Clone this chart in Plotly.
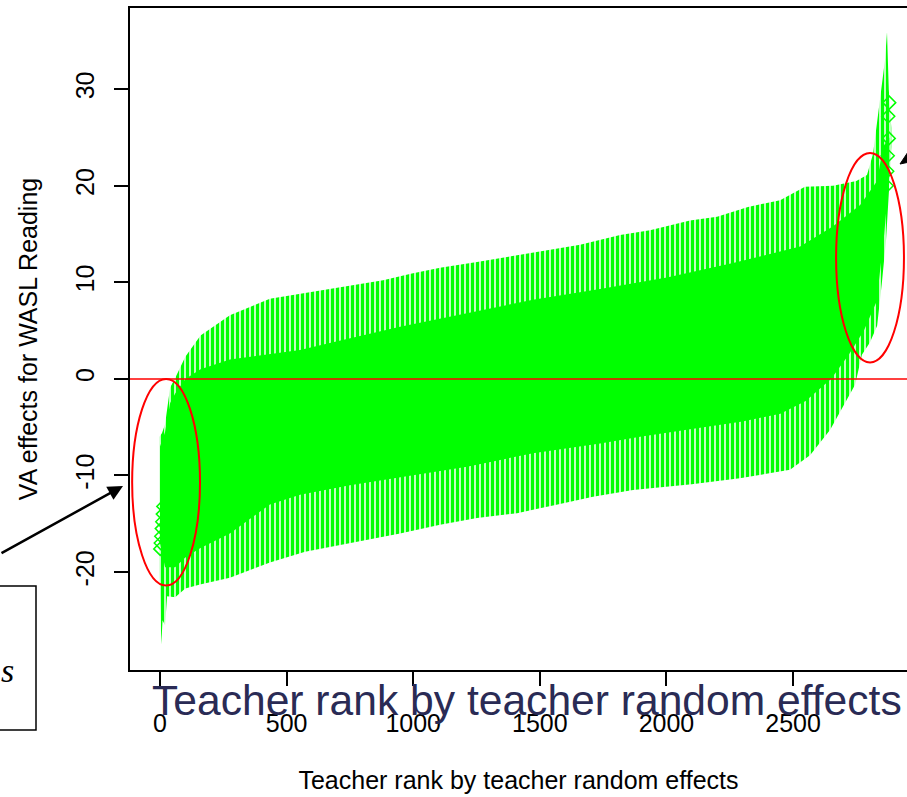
import plotly.graph_objects as go

# ---- data (teacher rank vs VA-effect interval envelopes) ----
upper_spike_rank = [-2, 8, 20, 40, 60, 100, 160, 276, 434, 573, 723, 881, 995, 1106, 1252, 1410,
                    1552, 1659, 1817, 1935, 2093, 2200, 2322, 2449, 2547, 2658, 2750, 2792, 2816,
                    2844, 2863, 2871, 2878, 2888]
upper_spike = [-6.0, -5.6, -4.7, -0.9, 0.1, 2.3, 4.5, 6.6, 8.3, 8.9, 9.5, 10.2, 10.9, 11.5, 12.1, 12.8,
               13.4, 13.9, 14.9, 15.4, 16.4, 16.8, 17.8, 18.5, 19.9, 20.0, 20.5, 21.1, 23.3,
               28.8, 33.0, 35.9, 30.0, 26.0]

lower_spike_rank = [-2, 5, 10, 20, 28, 60, 100, 158, 276, 434, 573, 750, 948, 1106, 1252, 1410,
                    1552, 1710, 1868, 2100, 2290, 2488, 2567, 2646, 2705, 2745, 2772, 2804, 2832,
                    2851, 2867, 2880, 2888]
lower_spike = [-20.0, -27.5, -25.0, -25.5, -22.5, -22.6, -21.7, -21.3, -20.6, -19.0, -17.9, -17.0,
               -16.0, -15.1, -14.4, -13.9, -13.1, -12.2, -11.5, -10.9, -10.3, -9.4, -7.9, -5.3,
               -2.5, -0.6, 2.5, 3.8, 5.5, 10.0, 14.3, 20.0, 24.0]

core_upper_rank = [0, 20, 40, 60, 100, 160, 276, 434, 553, 700, 948, 1212, 1473, 1738, 2002, 2263,
                   2528, 2658, 2765, 2832, 2855, 2880]
core_upper = [-7.0, -5.5, -2.5, -1.5, 0.0, 1.0, 2.0, 2.6, 3.0, 3.9, 5.4, 6.8, 8.2, 9.3, 10.5, 12.0,
              13.7, 15.8, 18.0, 20.5, 24.0, 25.0]

core_lower_rank = [0, 20, 60, 100, 160, 276, 434, 553, 750, 948, 1212, 1473, 1738, 1896, 2100, 2300,
                   2450, 2550, 2650, 2720, 2780, 2830, 2860, 2880]
core_lower = [-17.0, -19.5, -19.5, -18.5, -17.5, -16.0, -13.0, -12.0, -11.0, -10.2, -9.1, -7.7, -6.7,
              -6.0, -5.2, -4.4, -3.6, -2.3, 0.0, 2.5, 5.0, 8.0, 15.0, 21.0]

diamond_rank = [1, 3, 5, 7, 9, 11, 13, 2880, 2876, 2878, 2874, 2872, 2870]
diamond_value = [-17.6, -17.0, -16.3, -15.5, -14.8, -14.0, -13.2, 28.6, 27.2, 24.9, 23.1, 21.5, 20.0]

x_ticks = [0, 500, 1000, 1500, 2000, 2500]
y_ticks = [-20, -10, 0, 10, 20, 30]
y_tick_text = ["-20", "-10", "0", "10", "20", "30"]

x_title = "Teacher rank by teacher random effects"
y_title = "VA effects for WASL Reading"
overlay_text = "Teacher rank by teacher random effects"

GREEN = "#00ff00"
FONT = "Liberation Sans, Arial, sans-serif"

fig = go.Figure()

# outer (spiky) envelope
fig.add_trace(go.Scatter(
    x=upper_spike_rank + lower_spike_rank[::-1],
    y=upper_spike + lower_spike[::-1],
    mode="lines", fill="toself", line=dict(width=0, color=GREEN),
    fillcolor="rgba(0,255,0,0)",
    fillpattern=dict(shape="|", fgcolor=GREEN, fgopacity=1, bgcolor="rgba(255,255,255,0)",
                     size=5, solidity=0.7),
    hoverinfo="skip", showlegend=False))

# dense core
fig.add_trace(go.Scatter(
    x=core_upper_rank + core_lower_rank[::-1],
    y=core_upper + core_lower[::-1],
    mode="lines", fill="toself", line=dict(width=0, color=GREEN),
    fillcolor=GREEN, hoverinfo="skip", showlegend=False))

# diamond point markers
fig.add_trace(go.Scatter(
    x=diamond_rank, y=diamond_value, mode="markers",
    marker=dict(symbol="diamond-open", size=10, color=GREEN, line=dict(width=1.5, color=GREEN)),
    hoverinfo="skip", showlegend=False))

W, H = 907, 797
L, R, T, B = 130, 0, 8, 127
PW, PH = W - L - R, H - T - B

def px(xp):
    return (xp - L) / PW

def py(yp):
    return (H - B - yp) / PH

# right-hand arrow (mostly outside the visible page): line + filled head
tail = (990.0, 119.0)
head = [(900.0, 164.0), (919.0, 160.0), (912.0, 146.0)]
head_path = "M {} {} L {} {} L {} {} Z".format(*[v for p in head for v in (px(p[0]), py(p[1]))])

shapes = [
    dict(type="line", xref="paper", yref="y", x0=0, x1=1, y0=0, y1=0,
         line=dict(color="red", width=1.5)),
    dict(type="circle", xref="x", yref="y", x0=-110, x1=158, y0=-21.4, y1=0.0,
         line=dict(color="red", width=2)),
    dict(type="circle", xref="x", yref="y", x0=2670, x1=2938, y0=1.7, y1=23.4,
         line=dict(color="red", width=2)),
    dict(type="rect", xref="paper", yref="paper", x0=px(-5), x1=px(36), y0=py(730), y1=py(586),
         line=dict(color="black", width=1.5)),
    dict(type="line", xref="paper", yref="paper", x0=px(tail[0]), y0=py(tail[1]),
         x1=px(912), y1=py(158), line=dict(color="black", width=2.5)),
    dict(type="path", xref="paper", yref="paper", path=head_path,
         fillcolor="black", line=dict(color="black", width=1)),
]

annotations = [
    dict(text=overlay_text, xref="paper", yref="paper", x=px(527), y=py(700),
         xanchor="center", yanchor="middle", showarrow=False,
         font=dict(family=FONT, size=42.6, color="#2a2b55")),
    dict(text="<i>s</i>", xref="paper", yref="paper", x=px(8), y=py(670),
         xanchor="center", yanchor="middle", showarrow=False,
         font=dict(family="Liberation Serif, serif", size=34, color="black")),
    dict(text="", xref="paper", yref="paper", x=px(123), y=py(486), ax=-170, ay=68,
         showarrow=True, arrowhead=2, arrowsize=1.2, arrowwidth=2.5, arrowcolor="black"),
]

fig.update_layout(
    width=W, height=H,
    margin=dict(l=L, r=R, t=T, b=B, pad=0, autoexpand=False),
    paper_bgcolor="white", plot_bgcolor="white",
    font=dict(family=FONT, color="black"),
    shapes=shapes, annotations=annotations,
    xaxis=dict(range=[-118.5, 2950], tickvals=x_ticks, ticks="outside", ticklen=14,
               tickwidth=1.5, tickcolor="black", showline=True, linecolor="black",
               linewidth=1.5, mirror=True, showgrid=False, zeroline=False, automargin=False,
               tickfont=dict(family=FONT, size=25, color="black"), ticklabelstandoff=16,
               title=dict(text=x_title, font=dict(family=FONT, size=25, color="black"),
                          standoff=36)),
    yaxis=dict(range=[-30.14, 38.4], tickvals=y_ticks, ticktext=y_tick_text, tickangle=-90,
               ticks="outside", ticklen=14, tickwidth=1.5, tickcolor="black",
               showline=True, linecolor="black", linewidth=1.5, mirror=False,
               showgrid=False, zeroline=False, automargin=False,
               tickfont=dict(family=FONT, size=25, color="black"), ticklabelstandoff=10,
               title=dict(text=y_title, font=dict(family=FONT, size=25, color="black"),
                          standoff=27)),
)

fig.write_html("out.html",
               config={"displayModeBar": False},
               post_script="document.body.style.margin='0px';"
                           "document.body.style.overflow='hidden';"
                           "window.dispatchEvent(new Event('resize'));")
